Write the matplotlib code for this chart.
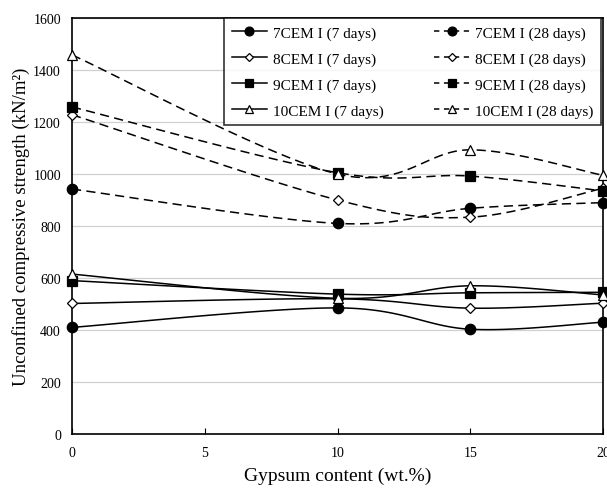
import numpy as np
import matplotlib
matplotlib.use("Agg")
import matplotlib.pyplot as plt

plt.rcParams["font.family"] = ["Liberation Serif", "DejaVu Serif"]

gypsum = [0, 10, 15, 20]
mixes = ["7CEM I", "8CEM I", "9CEM I", "10CEM I"]
ucs_7d = {
    "7CEM I":  [410, 485, 403, 430],
    "8CEM I":  [502, 520, 484, 503],
    "9CEM I":  [590, 538, 543, 545],
    "10CEM I": [615, 522, 570, 535],
}
ucs_28d = {
    "7CEM I":  [942, 810, 868, 890],
    "8CEM I":  [1228, 900, 834, 945],
    "9CEM I":  [1258, 1005, 992, 935],
    "10CEM I": [1458, 1000, 1093, 995],
}

MARK = {
    "7CEM I":  dict(marker="o", mfc="black", ms=7.5),
    "8CEM I":  dict(marker="D", mfc="white", ms=5),
    "9CEM I":  dict(marker="s", mfc="black", ms=7),
    "10CEM I": dict(marker="^", mfc="white", ms=6.5),
}


def smooth(x, y, n=40):
    # Excel-like smoothed line: cubic Bezier segments with 1/6 tangents
    x = np.asarray(x, float); y = np.asarray(y, float)
    px, py = [], []
    k = len(x)
    for i in range(k - 1):
        i0 = max(i - 1, 0); i3 = min(i + 2, k - 1)
        c1x = x[i] + (x[i + 1] - x[i0]) / 6; c1y = y[i] + (y[i + 1] - y[i0]) / 6
        c2x = x[i + 1] - (x[i3] - x[i]) / 6; c2y = y[i + 1] - (y[i3] - y[i]) / 6
        t = np.linspace(0, 1, n)
        b0 = (1 - t) ** 3; b1 = 3 * t * (1 - t) ** 2; b2 = 3 * t ** 2 * (1 - t); b3 = t ** 3
        px.extend(b0 * x[i] + b1 * c1x + b2 * c2x + b3 * x[i + 1])
        py.extend(b0 * y[i] + b1 * c1y + b2 * c2y + b3 * y[i + 1])
    return px, py


fig = plt.figure(figsize=(6.07, 4.89), dpi=100)
ax = fig.add_axes([72 / 607, 54 / 489, 531 / 607, 416 / 489])

for dset, ls in [(ucs_7d, "-"), (ucs_28d, (0, (6, 3.5)))]:
    for m in mixes:
        sx, sy = smooth(gypsum, dset[m])
        ax.plot(sx, sy, color="black", lw=1.1, ls=ls, zorder=3)
        ax.plot(gypsum, dset[m], ls="none", mec="black", mew=0.9,
                zorder=4, clip_on=False, **MARK[m])

# legend handles (7 days left column, 28 days right column)
handles = []
for ls, tag in [("-", "7 days"), ((0, (3.5, 3)), "28 days")]:
    for m in mixes:
        st = dict(MARK[m]); st["ms"] = st["ms"] * 0.85
        h, = ax.plot([], [], color="black", lw=1.1, ls=ls, mec="black", mew=0.9,
                     label=f"{m} ({tag})", **st)
        handles.append(h)

leg = ax.legend(handles=handles, ncol=2, loc="upper right", fontsize=11,
                frameon=True, fancybox=False, edgecolor="black",
                bbox_to_anchor=(0.997, 1.0), borderaxespad=0.0,
                handlelength=2.3, columnspacing=3.3, labelspacing=0.8,
                borderpad=0.5, handletextpad=0.4)
leg.get_frame().set_linewidth(1.2)
leg.set_zorder(5)

ax.set_xlim(0, 20)
ax.set_ylim(0, 1600)
ax.set_xticks([0, 5, 10, 15, 20])
ax.set_yticks(range(0, 1601, 200))
ax.yaxis.grid(True, color="#d0d0d0", lw=0.9)
ax.set_axisbelow(True)
ax.tick_params(axis="x", direction="in", length=4, labelsize=10, pad=9)
ax.tick_params(axis="y", direction="in", length=0, labelsize=10, pad=8)
for s in ax.spines.values():
    s.set_linewidth(1.2)

ax.set_xlabel("Gypsum content (wt.%)", fontsize=14, labelpad=5)
ax.set_ylabel("Unconfined compressive strength (kN/m²)", fontsize=13.5, labelpad=2)

fig.savefig("out.png", dpi=100)
